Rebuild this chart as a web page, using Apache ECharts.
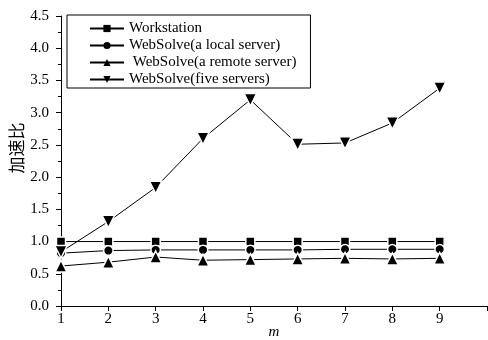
<!DOCTYPE html>
<html><head><meta charset="utf-8">
<script src="https://cdn.jsdelivr.net/npm/echarts@6/dist/echarts.min.js"></script>
<style>html,body{margin:0;padding:0;background:#fff}#c{width:488px;height:340px}</style>
</head><body><div id="c"></div>
<script>
const mValues = [1, 2, 3, 4, 5, 6, 7, 8, 9];
const seriesNames = ['Workstation', 'WebSolve(a local server)', ' WebSolve(a remote server)', 'WebSolve(five servers)'];
const workstation = [1.0, 1.0, 1.0, 1.0, 1.0, 1.0, 1.0, 1.0, 1.0];
const localServer = [0.82, 0.86, 0.87, 0.87, 0.87, 0.87, 0.88, 0.88, 0.88];
const remoteServer = [0.62, 0.68, 0.76, 0.71, 0.72, 0.73, 0.74, 0.73, 0.74];
const fiveServers = [0.84, 1.31, 1.84, 2.60, 3.20, 2.51, 2.53, 2.84, 3.38];
const symbols = ['rect', 'circle', 'triangle', 'path://M0,0 L10,0 L5,9 Z'];
const sizes = [9, 9.5, 12, 12.5];

const font = 'Liberation Serif, Times New Roman, serif';
const all = [workstation, localServer, remoteServer, fiveServers];
const chart = echarts.init(document.getElementById('c'));
chart.setOption({
  animation: false,
  backgroundColor: '#fff',
  grid: {left: 61, right: 1, top: 16, bottom: 34, outerBoundsMode: 'none', containLabel: false},
  legend: {
    orient: 'vertical', left: 67, top: 15,
    data: seriesNames.map(n => ({name: n, itemStyle: {borderWidth: 0}})),
    borderColor: '#000', borderWidth: 1, borderRadius: 0,
    padding: [5, 14, 0, 22],
    itemWidth: 34, itemHeight: 9, itemGap: 0,
    itemStyle: {borderWidth: 0},
    textStyle: {fontFamily: font, fontSize: 15, lineHeight: 17, color: '#000'}
  },
  xAxis: {
    type: 'value', min: 1, max: 10, interval: 1,
    name: 'm', nameLocation: 'middle', nameGap: 19, nameMoveOverlap: false,
    nameTextStyle: {fontFamily: font, fontStyle: 'italic', fontSize: 15, color: '#000'},
    axisLine: {lineStyle: {color: '#000', width: 1}},
    axisTick: {show: true, length: 5, lineStyle: {color: '#000'}},
    axisLabel: {fontFamily: font, fontSize: 15, color: '#000', margin: 6,
      formatter: v => v === 10 ? '' : String(v)},
    splitLine: {show: false}
  },
  yAxis: {
    type: 'value', min: 0, max: 4.5, interval: 0.5,
    name: '加速比', nameLocation: 'middle', nameGap: 36, nameRotate: 90, nameMoveOverlap: false,
    nameTextStyle: {fontFamily: 'Noto Sans CJK SC', fontSize: 17, color: '#000', padding: [0, 0, 0, 26]},
    axisLine: {show: true, lineStyle: {color: '#000', width: 1}},
    axisTick: {show: true, length: 5, lineStyle: {color: '#000'}},
    minorTick: {show: true, splitNumber: 2, length: 3, lineStyle: {color: '#000'}},
    axisLabel: {fontFamily: font, fontSize: 15, color: '#000', margin: 12,
      formatter: v => v.toFixed(1)},
    splitLine: {show: false}
  },
  series: all.map((d, i) => ({
    name: seriesNames[i], type: 'line',
    data: d.map((v, j) => [mValues[j], v]),
    symbol: symbols[i], symbolSize: sizes[i],
    showAllSymbol: true,
    lineStyle: {color: '#000', width: 1},
    itemStyle: {color: '#000', borderColor: '#fff', borderWidth: 1.5}
  }))
});
</script></body></html>
